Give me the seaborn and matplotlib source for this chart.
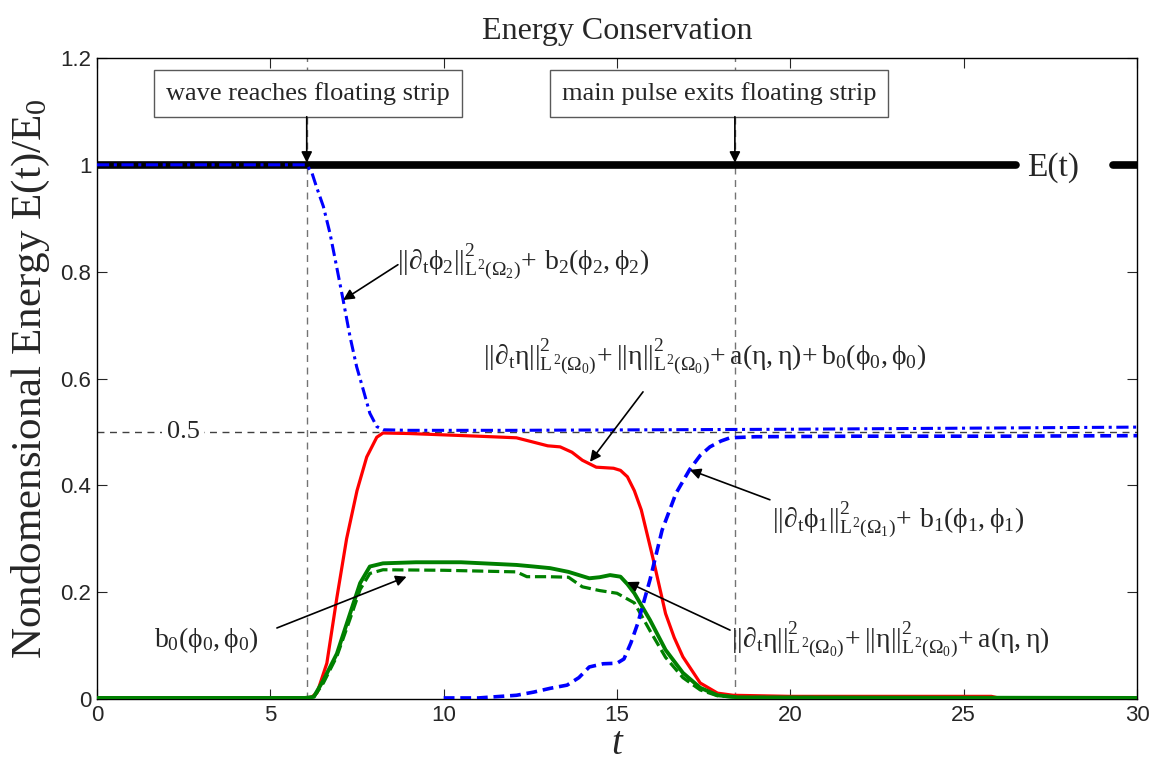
import numpy as np
import pandas as pd
import matplotlib
matplotlib.use("Agg")
import matplotlib.pyplot as plt
import seaborn as sns

# ---------------- data ----------------
# total energy E(t) (two segments: broken where the "E(t)" label sits)
E_t = [0.0, 26.5, 29.3, 30.0]
E_v = [1.0, 1.0, 1.0, 1.0]
E_seg = [0, 0, 1, 1]

# ||d_t phi_2||^2 + b_2(phi_2,phi_2)   (blue dash-dot)
phi2_t = [0, 6.05, 6.2, 6.33, 6.53, 6.72, 6.91, 7.1, 7.3, 7.49, 7.68, 7.87, 8.07, 8.26, 9, 12, 16, 20, 25, 30]
phi2_v = [1.0, 1.0, 0.985, 0.959, 0.922, 0.872, 0.81, 0.747, 0.678, 0.622, 0.579, 0.535, 0.51, 0.504, 0.503,
          0.503, 0.504, 0.505, 0.507, 0.509]

# ||d_t phi_1||^2 + b_1(phi_1,phi_1)   (blue dashed)
phi1_t = [10.0, 11.0, 12.1, 12.6, 13.07, 13.56, 13.9, 14.2, 14.6, 15.0, 15.2, 15.4, 15.6, 15.95, 16.3,
          16.7, 17.1, 17.4, 17.68, 18.0, 18.26, 19, 22, 26, 30]
phi1_v = [0.002, 0.002, 0.007, 0.013, 0.02, 0.026, 0.04, 0.06, 0.066, 0.067, 0.075, 0.105, 0.142, 0.223,
          0.316, 0.385, 0.43, 0.456, 0.472, 0.483, 0.489, 0.491, 0.492, 0.492, 0.493]

# eta energy + b_0   (red solid)
tot0_t = [0, 6.0, 6.2, 6.35, 6.63, 6.92, 7.2, 7.5, 7.78, 8.07, 8.25, 9, 10.2, 11, 12.1, 12.7, 13.0, 13.36,
          13.7, 14.0, 14.4, 14.9, 15.1, 15.3, 15.5, 15.7, 16.05, 16.4, 16.65, 16.9, 17.4, 17.9, 18.35, 20,
          25.8, 26, 30]
tot0_v = [0.001, 0.001, 0.004, 0.012, 0.067, 0.19, 0.30, 0.39, 0.453, 0.49, 0.498, 0.497, 0.494, 0.492,
          0.489, 0.479, 0.474, 0.472, 0.462, 0.447, 0.434, 0.432, 0.428, 0.416, 0.39, 0.354, 0.26, 0.16,
          0.115, 0.079, 0.03, 0.011, 0.007, 0.005, 0.005, 0.002, 0.002]

# ||d_t eta||^2 + ||eta||^2 + a(eta,eta)   (green solid)
eta_t = [0, 6.0, 6.25, 6.53, 6.92, 7.3, 7.59, 7.87, 8.25, 9.2, 10.5, 12.1, 12.6, 13.07, 13.6, 14.0, 14.2,
         14.5, 14.8, 15.1, 15.3, 15.5, 15.95, 16.4, 16.9, 17.4, 17.9, 18.5, 30]
eta_v = [0.002, 0.002, 0.004, 0.035, 0.085, 0.16, 0.217, 0.248, 0.254, 0.256, 0.256, 0.251, 0.248, 0.245,
         0.238, 0.23, 0.226, 0.228, 0.232, 0.229, 0.215, 0.198, 0.148, 0.092, 0.049, 0.021, 0.007, 0.003,
         0.002]

# b_0(phi_0,phi_0)   (green dashed)
b0_t = [6.25, 6.53, 6.92, 7.3, 7.59, 7.87, 8.25, 10, 12.1, 12.4, 13.0, 13.6, 14.0, 14.5, 15.0, 15.5, 15.95,
        16.4, 16.9, 17.4, 17.9, 18.5, 30]
b0_v = [0.003, 0.03, 0.08, 0.15, 0.205, 0.235, 0.242, 0.241, 0.238, 0.229, 0.229, 0.228, 0.21, 0.203,
        0.198, 0.18, 0.128, 0.078, 0.04, 0.017, 0.006, 0.003, 0.002]

# event markers
t_wave_reaches = 6.05
t_pulse_exits = 18.4
half_level = 0.5

x_ticks = [0, 5, 10, 15, 20, 25, 30]
y_ticks = [0, 0.2, 0.4, 0.6, 0.8, 1.0, 1.2]
y_ticklabels = ["0", "0.2", "0.4", "0.6", "0.8", "1", "1.2"]

# ---------------- style ----------------
sns.set_style("ticks")
plt.rcParams["font.family"] = ["Liberation Serif", "DejaVu Serif"]
plt.rcParams["mathtext.fontset"] = "custom"
plt.rcParams["mathtext.rm"] = "Liberation Serif"
plt.rcParams["mathtext.it"] = "Liberation Serif"
plt.rcParams["mathtext.bf"] = "Liberation Serif:bold"
plt.rcParams["mathtext.fallback"] = "stix"

fig = plt.figure(figsize=(11.56, 7.69), dpi=100)
ax = fig.add_axes([0.0839, 0.0910, 0.8997, 0.8336])

BLUE = (0, 0, 1)
RED = (1, 0, 0)
GREEN = (0.0, 0.5, 0.0)

# reference lines
ax.axvline(t_wave_reaches, color="0.45", lw=1.0, ls=(0, (5, 4)), zorder=1)
ax.axvline(t_pulse_exits, color="0.45", lw=1.0, ls=(0, (5, 4)), zorder=1)
ax.axhline(half_level, color="0.25", lw=1.0, ls=(0, (5, 4)), zorder=1)

# curves
dfE = pd.DataFrame({"t": E_t, "v": E_v, "seg": E_seg})
sns.lineplot(data=dfE, x="t", y="v", units="seg", estimator=None, color="k", lw=5.5, ax=ax, zorder=2)
sns.lineplot(x=tot0_t, y=tot0_v, color=RED, lw=2.3, ax=ax, zorder=3)
sns.lineplot(x=b0_t, y=b0_v, color=GREEN, lw=2.3, linestyle=(0, (3.5, 1.5)), ax=ax, zorder=4)
sns.lineplot(x=eta_t, y=eta_v, color=GREEN, lw=2.8, ax=ax, zorder=4)
sns.lineplot(x=phi1_t, y=phi1_v, color=BLUE, lw=2.6, linestyle=(0, (3, 1.6)), ax=ax, zorder=5)
sns.lineplot(x=phi2_t, y=phi2_v, color=BLUE, lw=2.2, linestyle=(0, (4, 1.5, 1, 1.5)), ax=ax, zorder=6)

# axes
ax.set_xlim(0, 30)
ax.set_ylim(0, 1.2)
ax.set_xticks(x_ticks)
ax.set_yticks(y_ticks)
ax.set_xticklabels([str(v) for v in x_ticks], fontfamily="Liberation Sans", fontsize=16)
ax.set_yticklabels(y_ticklabels, fontfamily="Liberation Sans", fontsize=16)
ax.tick_params(direction="in", top=True, right=True, length=7, width=0.8, pad=4)
for s in ax.spines.values():
    s.set_visible(True)
    s.set_color("k")
    s.set_linewidth(1.0)

ax.set_title("Energy Conservation", fontsize=23, pad=14)
ax.set_xlabel("t", fontsize=28, style="italic", labelpad=0)
ax.set_ylabel(r"Nondomensional Energy E(t)/E$_0$", fontsize=31, labelpad=6)

# text labels
box = dict(boxstyle="square,pad=0.45", facecolor="white", edgecolor="0.35", lw=1.0)
ax.text(6.09, 1.133, "wave reaches floating strip", fontsize=19, ha="center", va="center", bbox=box, zorder=7)
ax.text(17.95, 1.133, "main pulse exits floating strip", fontsize=19, ha="center", va="center", bbox=box,
        zorder=7)
ax.text(27.57, 0.994, "E(t)", fontsize=24, ha="center", va="center", zorder=7)
ax.text(2.48, 0.5, "0.5", fontsize=19, ha="center", va="center",
        bbox=dict(facecolor="white", edgecolor="none", pad=3), zorder=7)

fs = 20
ax.text(12.3, 0.818, r"$||\partial_t\phi_2||^2_{L^2(\Omega_2)}\!+\,b_2(\phi_2,\phi_2)$", fontsize=fs,
        ha="center", va="center", zorder=7)
ax.text(17.54, 0.64,
        r"$||\partial_t\eta||^2_{L^2(\Omega_0)}\!+||\eta||^2_{L^2(\Omega_0)}\!+a(\eta,\eta)\!+b_0(\phi_0,\phi_0)$",
        fontsize=fs, ha="center", va="center", zorder=7)
ax.text(23.1, 0.335, r"$||\partial_t\phi_1||^2_{L^2(\Omega_1)}\!+\,b_1(\phi_1,\phi_1)$", fontsize=fs,
        ha="center", va="center", zorder=7)
ax.text(22.87, 0.11, r"$||\partial_t\eta||^2_{L^2(\Omega_0)}\!+||\eta||^2_{L^2(\Omega_0)}\!+a(\eta,\eta)$",
        fontsize=fs, ha="center", va="center", zorder=7)
ax.text(3.14, 0.11, r"$b_0(\phi_0,\phi_0)$", fontsize=fs, ha="center", va="center", zorder=7)

# arrows
arrow = dict(arrowstyle="-|>", color="k", lw=1.2, mutation_scale=16, shrinkA=0, shrinkB=0)
arrows = [
    ((t_wave_reaches, 1.09), (t_wave_reaches, 1.004)),
    ((t_pulse_exits, 1.09), (t_pulse_exits, 1.004)),
    ((8.68, 0.813), (7.1, 0.747)),
    ((15.75, 0.575), (14.22, 0.444)),
    ((19.41, 0.373), (17.1, 0.429)),
    ((18.26, 0.129), (15.29, 0.219)),
    ((5.19, 0.133), (8.93, 0.229)),
]
for tail, tip in arrows:
    ax.annotate("", xy=tip, xytext=tail, arrowprops=arrow, zorder=8)

fig.savefig("out.png", dpi=100)
